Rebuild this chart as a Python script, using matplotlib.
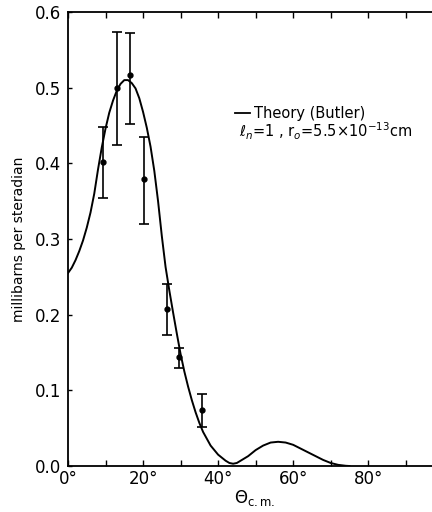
import numpy as np
import matplotlib.pyplot as plt

# measured points (angle in deg, cross section, error bar ends)
angle = [9.2, 13.1, 16.5, 20.3, 26.3, 29.7, 35.8]
sigma = [0.402, 0.500, 0.517, 0.379, 0.207, 0.144, 0.074]
err_hi = [0.448, 0.574, 0.572, 0.435, 0.241, 0.156, 0.095]
err_lo = [0.354, 0.424, 0.452, 0.320, 0.173, 0.130, 0.052]

# theory curve (Butler)
theory_x = [0, 1, 2, 3, 4, 5, 6, 7, 8, 9, 10, 11, 12, 13, 14, 15, 16, 17, 18, 19,
            20, 21, 22, 23, 24, 25, 26, 27, 28, 29, 30, 31, 32, 33, 34, 35, 36,
            38, 40, 42, 43, 44, 45, 46, 48, 50, 52, 54, 56, 58, 60, 62, 64, 66,
            68, 70, 72, 74, 75]
theory_y = [0.255, 0.262, 0.272, 0.284, 0.298, 0.315, 0.335, 0.360, 0.392, 0.421,
            0.446, 0.467, 0.483, 0.496, 0.505, 0.510, 0.510, 0.506, 0.499, 0.486,
            0.468, 0.447, 0.422, 0.390, 0.350, 0.304, 0.263, 0.232, 0.203, 0.175,
            0.148, 0.125, 0.105, 0.087, 0.071, 0.057, 0.045, 0.027, 0.015, 0.007,
            0.004, 0.003, 0.004, 0.007, 0.013, 0.021, 0.027, 0.031, 0.032, 0.031,
            0.028, 0.023, 0.018, 0.013, 0.008, 0.004, 0.0015, 0.0003, 0.0]

xticks = [0, 20, 40, 60, 80]
yticks = [0.0, 0.1, 0.2, 0.3, 0.4, 0.5, 0.6]

fig = plt.figure(figsize=(4.32, 5.12), dpi=100)
ax = fig.add_axes([68 / 432, 46 / 512, 1 - 68 / 432, 454 / 512])

ax.plot(theory_x, theory_y, color='black', lw=1.4)
s = np.array(sigma)
yerr = [s - np.array(err_lo), np.array(err_hi) - s]
ax.errorbar(angle, sigma, yerr=yerr, fmt='o', color='black', ms=3.5,
            elinewidth=1.2, capsize=3.5, capthick=1.2)

ax.set_xlim(0, 97)
ax.set_ylim(0, 0.6)
ax.spines['right'].set_visible(False)
for sp in ['left', 'bottom', 'top']:
    ax.spines[sp].set_linewidth(1.3)

ax.set_xticks(range(0, 100, 10))
ax.set_xticklabels([f'{t}°' if t in xticks else '' for t in range(0, 100, 10)],
                   fontsize=12)
ax.set_yticks(yticks)
ax.set_yticklabels([f'{v:.1f}' for v in yticks], fontsize=12)
ax.tick_params(axis='x', direction='in', length=4, width=1, top=True, pad=3)
ax.tick_params(axis='y', direction='in', length=3, width=1, pad=5)

ax.set_ylabel('millibarns per steradian', fontsize=10, labelpad=6)
fig.text(255 / 432, 14 / 512, r'$\Theta_{\rm c.m.}$', fontsize=12,
         ha='center', va='center')

# legend text
ax.plot([44.5, 48.6], [0.466, 0.466], color='black', lw=1.3)
ax.text(49.6, 0.466, 'Theory (Butler)', fontsize=10.5, va='center')
ax.text(45.6, 0.442, r'$\ell_n$=1 , r$_o$=5.5×10$^{-13}$cm', fontsize=10.5,
        va='center')

fig.savefig('out.png', dpi=100)
